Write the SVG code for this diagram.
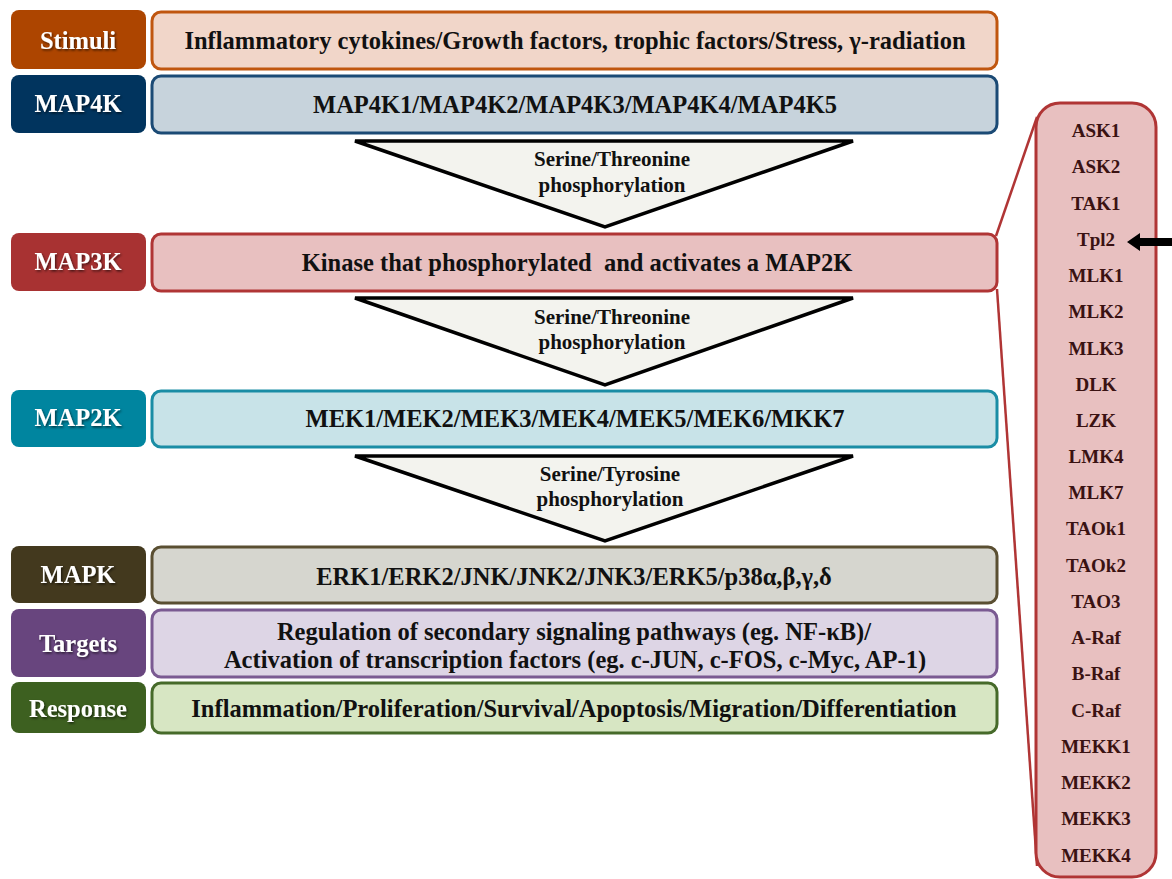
<svg xmlns="http://www.w3.org/2000/svg" width="1172" height="879" viewBox="0 0 1172 879">
<defs>
<filter id="sh" x="-10%" y="-20%" width="130%" height="150%"><feDropShadow dx="1.2" dy="1.5" stdDeviation="1" flood-color="#000" flood-opacity="0.6"/></filter>
<style>
text{font-family:'Liberation Serif','Times New Roman','DejaVu Serif',serif;font-weight:bold;text-anchor:middle}
.lab{fill:#fff;font-size:24.5px}
.main{fill:#111;font-size:24.5px}
.tri{fill:#f3f3ee;stroke:#000;stroke-width:3.5;stroke-linejoin:miter}
.tt{fill:#111;font-size:21px}
.side{fill:#3a1212;font-size:19px}
.box{stroke-width:3}
</style>
</defs>
<rect width="1172" height="879" fill="#fff"/>
<g font-family="Liberation Serif, Times New Roman, DejaVu Serif, serif">
<g id="stimuli">
<rect x="11" y="10" width="135" height="59" rx="8" fill="#ad4500"/>
<text class="lab" x="78" y="49" filter="url(#sh)">Stimuli</text>
<rect class="box" x="152" y="12" width="845" height="57" rx="9" fill="#f1d6c9" stroke="#c0560f"/>
<text class="main" x="575" y="49">Inflammatory cytokines/Growth factors, trophic factors/Stress, γ-radiation</text>
</g>

<g id="map4k">
<rect x="11" y="75" width="135" height="58" rx="8" fill="#01345e"/>
<text class="lab" x="78" y="112" filter="url(#sh)">MAP4K</text>
<rect class="box" x="152" y="76" width="845" height="57" rx="9" fill="#c7d3dc" stroke="#1b4a75"/>
<text class="main" x="575" y="113">MAP4K1/MAP4K2/MAP4K3/MAP4K4/MAP4K5</text>
</g>

<g id="map3k">
<rect x="11" y="233" width="135" height="58" rx="8" fill="#a83232"/>
<text class="lab" x="78" y="270" filter="url(#sh)">MAP3K</text>
<rect class="box" x="152" y="234" width="845" height="57" rx="9" fill="#e8c0c0" stroke="#b03535"/>
<text class="main" x="577" y="271" xml:space="preserve">Kinase that phosphorylated  and activates a MAP2K</text>
</g>

<g id="map2k">
<rect x="11" y="390" width="135" height="57" rx="8" fill="#00859f"/>
<text class="lab" x="78" y="426" filter="url(#sh)">MAP2K</text>
<rect class="box" x="152" y="391" width="845" height="56" rx="9" fill="#c8e3e8" stroke="#1a8da5"/>
<text class="main" x="575" y="427">MEK1/MEK2/MEK3/MEK4/MEK5/MEK6/MKK7</text>
</g>

<g id="mapk">
<rect x="11" y="546" width="135" height="57" rx="8" fill="#43391e"/>
<text class="lab" x="78" y="583" filter="url(#sh)">MAPK</text>
<rect class="box" x="152" y="547" width="845" height="56" rx="9" fill="#d6d6cf" stroke="#5a4f32"/>
<text class="main" x="574" y="585">ERK1/ERK2/JNK/JNK2/JNK3/ERK5/p38α,β,γ,δ</text>
</g>

<g id="targets">
<rect x="11" y="609" width="135" height="68" rx="8" fill="#68457e"/>
<text class="lab" x="78" y="652" filter="url(#sh)">Targets</text>
<rect class="box" x="152" y="610" width="845" height="67" rx="9" fill="#ddd5e5" stroke="#7a5a92"/>
<text class="main" x="574" y="640">Regulation of secondary signaling pathways (eg. NF-κB)/</text>
<text class="main" x="575" y="668">Activation of transcription factors (eg. c-JUN, c-FOS, c-Myc, AP-1)</text>
</g>

<g id="response">
<rect x="11" y="682" width="135" height="51" rx="8" fill="#3d6020"/>
<text class="lab" x="78" y="717" filter="url(#sh)">Response</text>
<rect class="box" x="152" y="683" width="845" height="50" rx="9" fill="#d7e6c3" stroke="#466a2a"/>
<text class="main" x="574" y="717">Inflammation/Proliferation/Survival/Apoptosis/Migration/Differentiation</text>
</g>

<g id="tri1">
<polygon class="tri" points="355,141 853,141 605,227"/>
<text class="tt" x="612" y="165.5">Serine/Threonine</text>
<text class="tt" x="612" y="191.5">phosphorylation</text>
</g>
<g id="tri2">
<polygon class="tri" points="355,298 853,298 605,385"/>
<text class="tt" x="612" y="323.5">Serine/Threonine</text>
<text class="tt" x="612" y="349">phosphorylation</text>
</g>
<g id="tri3">
<polygon class="tri" points="355,456 853,456 605,541"/>
<text class="tt" x="610" y="480.5">Serine/Tyrosine</text>
<text class="tt" x="610" y="506">phosphorylation</text>
</g>

<g id="connectors" fill="none" stroke="#b03535" stroke-width="2.5">
<line x1="996" y1="236" x2="1037" y2="117"/>
<line x1="997" y1="289" x2="1037" y2="866"/>
</g>

<g id="side-panel">
<rect x="1036" y="103" width="120" height="774" rx="24" fill="#e8c0c0" stroke="#b03535" stroke-width="3"/>
<text class="side" x="1096" y="137">ASK1</text>
<text class="side" x="1096" y="173">ASK2</text>
<text class="side" x="1096" y="210">TAK1</text>
<text class="side" x="1096" y="246">Tpl2</text>
<text class="side" x="1096" y="282">MLK1</text>
<text class="side" x="1096" y="318">MLK2</text>
<text class="side" x="1096" y="355">MLK3</text>
<text class="side" x="1096" y="391">DLK</text>
<text class="side" x="1096" y="427">LZK</text>
<text class="side" x="1096" y="463">LMK4</text>
<text class="side" x="1096" y="499">MLK7</text>
<text class="side" x="1096" y="535">TAOk1</text>
<text class="side" x="1096" y="572">TAOk2</text>
<text class="side" x="1096" y="608">TAO3</text>
<text class="side" x="1096" y="644">A-Raf</text>
<text class="side" x="1096" y="680">B-Raf</text>
<text class="side" x="1096" y="717">C-Raf</text>
<text class="side" x="1096" y="753">MEKK1</text>
<text class="side" x="1096" y="789">MEKK2</text>
<text class="side" x="1096" y="825">MEKK3</text>
<text class="side" x="1096" y="862">MEKK4</text>
</g>

<g id="arrow">
<polygon points="1127,242 1140,233 1140,238 1172,238 1172,246 1140,246 1140,251" fill="#000"/>
</g>
</g>
</svg>
